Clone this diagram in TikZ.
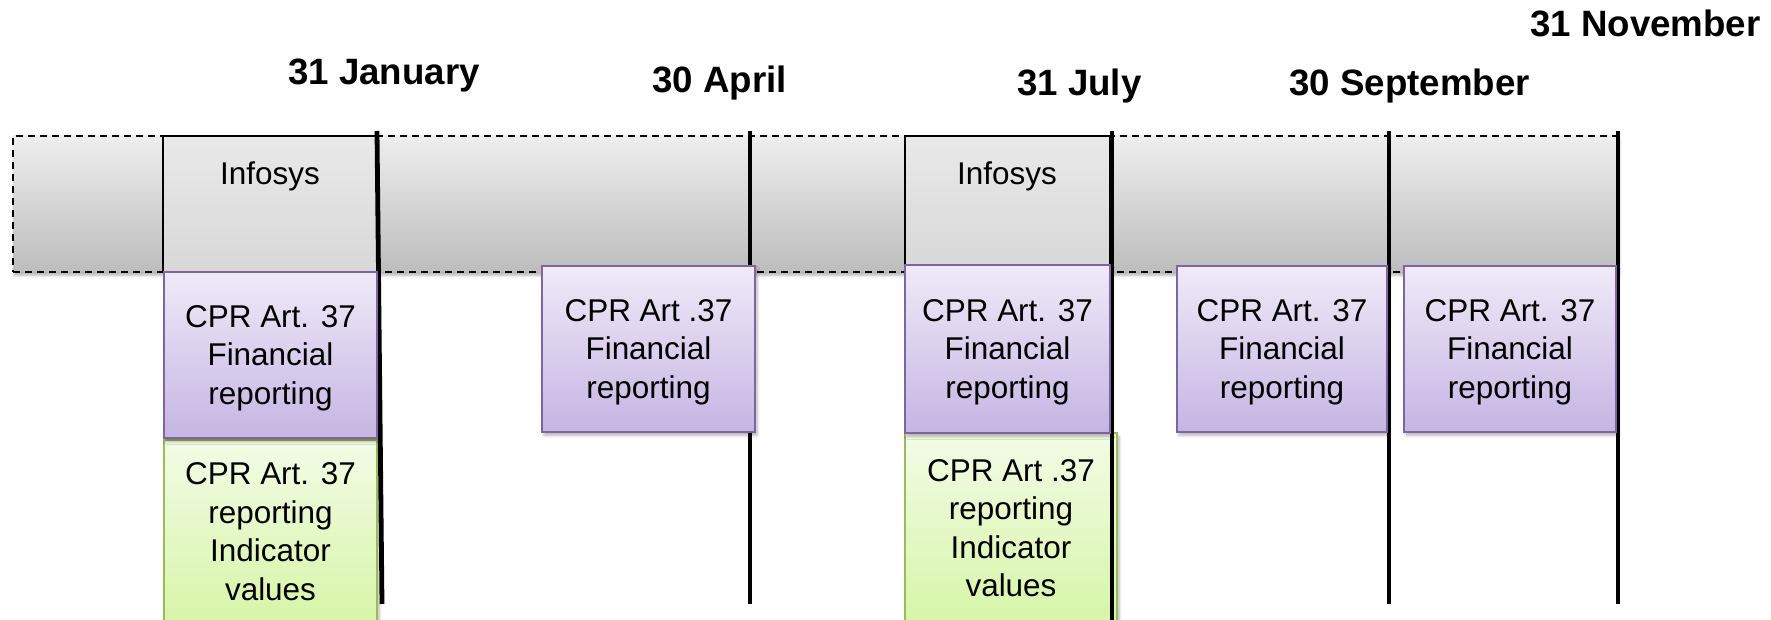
\documentclass[tikz,border=0pt]{standalone}
\usepackage{fontspec}
\setmainfont{Liberation Sans}
\usetikzlibrary{shadows.blur}
\definecolor{bandTop}{HTML}{EEEEEE}
\definecolor{bandBot}{HTML}{BDBDBD}
\definecolor{infTop}{HTML}{E9E9E9}
\definecolor{infBot}{HTML}{D8D8D8}
\definecolor{purTop}{HTML}{EFEAF8}
\definecolor{purBot}{HTML}{C5B5E3}
\definecolor{purLine}{HTML}{8064A2}
\definecolor{grnTop}{HTML}{F2FCE6}
\definecolor{grnBot}{HTML}{D7F5A8}
\definecolor{grnLine}{HTML}{9BBB59}
\newcommand\tlbox[6]{%
  \node[#1, minimum width={(#5-#3)*0.75pt}, minimum height={(#6-#4)*0.75pt}]
    (#2) at ({(#3+#5)/2},{(#4+#6)/2}) {};}
\tikzset{
  bandbox/.style={rectangle, draw=black, line width=1.4pt, dash pattern=on 5.5pt off 3.5pt,
    top color=bandTop, bottom color=bandBot, inner sep=0pt,
    blur shadow={shadow xshift=1pt, shadow yshift=-2.5pt, shadow blur steps=6, shadow opacity=30}},
  infbox/.style={rectangle, draw=black, line width=1.2pt, top color=infTop, bottom color=infBot, inner sep=0pt},
  purbox/.style={rectangle, draw=purLine, line width=1.3pt, top color=purTop, bottom color=purBot,
    inner sep=0pt,
    blur shadow={shadow xshift=1.5pt, shadow yshift=-2.5pt, shadow blur steps=6, shadow opacity=30}},
  grnbox/.style={rectangle, draw=grnLine, line width=1.3pt, top color=grnTop, bottom color=grnBot,
    inner sep=0pt,
    blur shadow={shadow xshift=1.5pt, shadow yshift=-2.5pt, shadow blur steps=6, shadow opacity=30}},
  boxtxt/.style={inner sep=0pt, align=center, font=\fontsize{23.6}{28.8}\selectfont},
  marker/.style={draw=black, line width=3.6pt},
  lbl/.style={inner sep=0pt, font=\fontsize{27.5}{33}\selectfont\bfseries},
  inftxt/.style={inner sep=0pt, anchor=north, font=\fontsize{23.6}{27.8}\selectfont}
}
\begin{document}
\begin{tikzpicture}[x=0.75pt,y=-0.75pt]
\useasboundingbox (0,0) rectangle (1771,620);

% band
\tlbox{bandbox}{band}{13}{136}{1618}{272}

% Infosys boxes
\tlbox{infbox}{infJ}{163}{136}{377}{272}
\tlbox{infbox}{infL}{905}{136}{1110}{267}
\node[inftxt] (infJt) at (270,161) {Infosys};
\node[inftxt] (infLt) at (1007,161) {Infosys};

% green boxes
\tlbox{grnbox}{gJ}{164}{440}{377}{622}
\tlbox{grnbox}{gL}{905}{433}{1117}{622}
\node[boxtxt] (gJt) at ([yshift=-0.5pt]gJ.center) {CPR Art. 37\\reporting\\Indicator\\values};
\node[boxtxt] (gLt) at ([yshift=-0.5pt]gL.center) {CPR Art .37\\reporting\\Indicator\\values};

% timeline markers
\coordinate (jT) at (377,131); \coordinate (jB) at (382,604);
\coordinate (aT) at (750,131); \coordinate (aB) at (750,604);
\coordinate (lT) at (1112,131); \coordinate (lB) at (1112,622);
\coordinate (sT) at (1389,131); \coordinate (sB) at (1389,604);
\coordinate (nT) at (1618,131); \coordinate (nB) at (1618,604);
\draw[marker] (jT) -- (jB);
\draw[marker] (aT) -- (aB);
\draw[marker] (lT) -- (lB);
\draw[marker] (sT) -- (sB);
\draw[marker] (nT) -- (nB);

% purple boxes
\tlbox{purbox}{pJ}{164}{272}{377}{438}
\tlbox{purbox}{pA}{542}{266}{755}{432}
\tlbox{purbox}{pL}{905}{265}{1110}{433}
\tlbox{purbox}{pS}{1177}{266}{1387}{432}
\tlbox{purbox}{pN}{1404}{266}{1616}{432}
\node[boxtxt] (pJt) at ([yshift=-2.2pt]pJ.center) {CPR Art. 37\\Financial\\reporting};
\node[boxtxt] (pAt) at ([yshift=-2.2pt]pA.center) {CPR Art .37\\Financial\\reporting};
\node[boxtxt] (pLt) at ([yshift=-2.2pt]pL.center) {CPR Art. 37\\Financial\\reporting};
\node[boxtxt] (pSt) at ([yshift=-2.2pt]pS.center) {CPR Art. 37\\Financial\\reporting};
\node[boxtxt] (pNt) at ([yshift=-2.2pt]pN.center) {CPR Art. 37\\Financial\\reporting};

% date labels
\node[lbl, anchor=base west] (dJ) at (288,85) {31 January};
\node[lbl, anchor=base west] (dA) at (652,93) {30 April};
\node[lbl, anchor=base west] (dL) at (1017,96) {31 July};
\node[lbl, anchor=base west] (dS) at (1289,96) {30 September};
\node[lbl, anchor=base west] (dN) at (1530,37) {31 November};
\end{tikzpicture}
\end{document}
